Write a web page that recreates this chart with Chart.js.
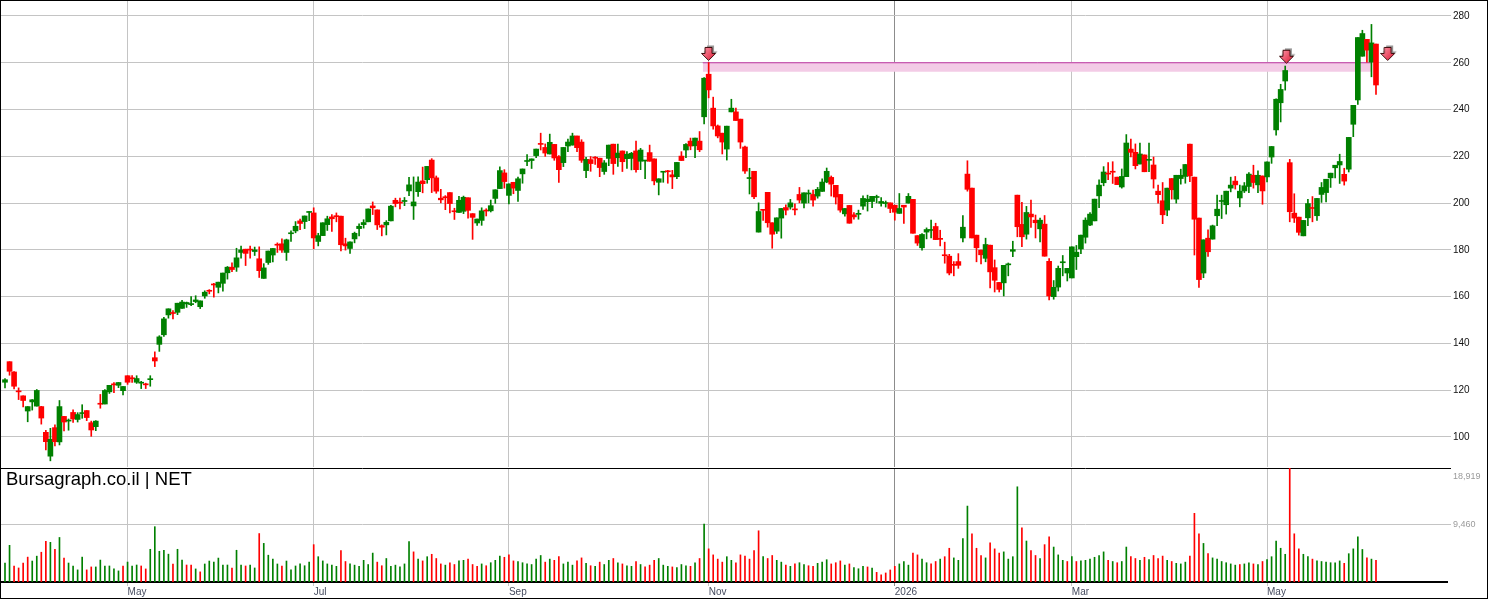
<!DOCTYPE html>
<html>
<head>
<meta charset="utf-8">
<script src="https://cdn.jsdelivr.net/npm/chart.js@4.4.1/dist/chart.umd.min.js"></script>
<style>
  html, body { margin: 0; padding: 0; background: #fff; }
  #frame { position: relative; width: 1486px; height: 597px; border: 1px solid #000; overflow: hidden; background: #fff; }
  #priceChart { position: absolute; left: 0; top: 0; }
  #volumeChart { position: absolute; left: 0; top: 466px; }
  #stamp { position: absolute; left: 5px; top: 469px; font: 18.5px "Liberation Sans", Arial, sans-serif; line-height: 1; color: #000; white-space: nowrap; }
</style>
</head>
<body>
<div id="frame">
  <canvas id="priceChart" width="1486" height="466"></canvas>
  <canvas id="volumeChart" width="1486" height="131"></canvas>
  <div id="stamp">Bursagraph.co.il | NET</div>
</div>
<script>
/*****************************************************************
 *                          DATA
 *****************************************************************/

// daily candles, oldest first
const openPrices = [
  123.4,132.2,127.8,119.5,117.6,111.1,115.0,113.2,113.0,102.0,
  91.8,104.0,97.9,108.8,106.8,110.5,107.5,110.0,111.3,106.1,
  104.4,114.2,114.1,119.3,122.5,122.1,119.8,126.2,125.1,123.4,
  123.0,122.5,124.5,133.9,139.6,143.7,152.2,153.0,153.3,155.0,
  156.9,156.6,157.9,155.7,160.3,162.5,165.2,164.0,165.7,170.2,
  172.6,172.6,178.9,180.3,180.1,179.3,176.2,167.8,174.6,177.8,
  182.2,182.6,178.9,186.9,188.1,192.4,192.1,196.0,195.8,183.6,
  186.1,190.8,194.1,194.4,194.4,182.6,180.6,184.7,189.1,190.8,
  192.0,198.8,197.1,190.4,190.7,192.4,201.2,200.2,200.7,205.2,
  198.8,204.9,209.5,210.0,218.4,210.8,202.1,202.5,204.5,196.5,
  196.0,196.5,202.3,195.5,191.5,192.6,196.8,196.7,202.0,206.2,
  212.9,203.3,208.9,205.4,212.5,217.8,218.2,220.3,225.3,223.8,
  221.0,225.1,219.9,217.3,224.4,224.8,228.7,226.1,213.9,218.6,
  219.4,219.2,213.5,219.1,225.2,219.4,222.3,219.0,219.1,222.3,
  217.9,218.0,221.6,218.9,208.9,213.2,213.6,212.1,211.3,220.1,
  222.7,226.5,224.5,226.5,236.9,255.1,240.6,233.0,229.9,223.1,
  239.0,239.0,235.9,224.0,210.5,213.6,187.6,197.1,204.6,191.6,
  188.0,193.6,198.1,198.3,197.3,203.7,200.0,203.9,203.7,203.0,
  205.0,209.0,211.0,207.6,203.7,195.4,199.0,195.0,195.2,198.7,
  200.6,200.7,202.4,199.9,199.8,200.1,199.1,195.6,199.1,200.0,
  201.6,186.1,180.9,187.6,188.3,190.0,184.7,177.7,177.3,173.6,
  175.0,185.1,212.4,206.4,186.3,179.9,176.4,182.0,172.4,166.1,
  165.9,173.6,179.4,203.4,190.9,186.7,195.3,192.7,189.0,191.0,
  175.1,160.0,164.1,174.5,170.1,168.0,177.1,180.4,185.4,190.6,
  192.4,203.1,208.7,212.6,213.4,211.1,206.9,211.3,223.1,221.7,
  216.7,220.6,218.3,216.3,205.1,201.0,197.0,210.5,201.7,210.5,
  211.4,225.2,211.1,193.6,170.1,185.0,184.6,194.6,200.7,199.3,
  206.4,209.4,202.2,205.2,207.1,211.9,207.8,211.6,211.2,219.7,
  231.3,242.9,252.2,217.3,195.7,194.0,186.0,193.7,197.9,194.6,
  203.7,204.5,210.8,215.1,216.3,212.3,214.5,233.7,244.1,262.8,
  270.0,260.3,268.0
];

const highPrices = [
  125.0,132.2,128.0,121.0,117.6,113.0,116.0,120.3,113.1,102.8,
  103.7,105.2,115.6,108.8,107.7,111.6,110.4,113.8,111.3,106.8,
  107.0,118.2,120.3,122.1,123.3,123.3,121.6,126.2,126.3,126.2,
  123.8,123.0,126.2,136.4,143.3,151.2,154.8,154.1,157.2,158.4,
  157.7,160.0,160.4,158.2,162.5,163.0,165.7,166.2,170.1,172.9,
  174.5,180.7,181.6,180.3,181.6,181.2,181.3,174.1,179.5,180.6,
  183.0,184.7,184.6,188.1,192.1,193.2,194.5,196.4,198.0,187.1,
  191.6,194.4,195.1,195.8,194.4,185.0,183.4,187.6,191.1,192.9,
  197.5,200.5,197.1,190.7,192.5,199.1,202.1,202.1,202.4,211.0,
  211.2,211.2,215.4,215.7,219.0,211.6,205.9,203.2,204.5,197.8,
  202.9,203.0,202.3,195.5,193.2,198.0,197.6,201.3,205.7,215.5,
  214.3,208.2,208.9,211.1,214.6,220.7,218.9,223.1,229.9,225.3,
  229.5,225.1,220.3,223.8,227.4,229.9,228.7,227.1,219.6,219.9,
  219.9,219.2,218.2,224.8,225.2,225.2,222.3,222.0,221.7,226.5,
  223.4,218.2,224.8,218.9,210.4,213.4,214.0,214.0,217.4,222.0,
  225.4,227.8,227.8,230.6,253.7,260.1,245.3,233.4,229.9,232.9,
  244.4,240.6,235.9,224.4,214.9,213.6,200.1,197.1,204.6,191.6,
  193.7,197.7,199.3,201.6,199.7,206.7,204.4,205.6,205.6,206.7,
  210.4,215.0,211.6,207.6,203.7,197.7,199.0,195.9,197.0,203.1,
  203.4,202.9,203.4,202.4,200.9,200.1,199.1,204.1,199.1,204.1,
  201.6,186.1,187.0,189.4,192.7,191.4,188.4,183.3,178.1,175.0,
  178.4,194.7,218.1,206.4,186.3,179.9,185.0,182.0,175.7,166.1,
  173.4,174.4,183.7,203.4,200.3,198.6,201.3,194.9,193.6,194.7,
  176.3,166.9,173.1,177.6,172.1,181.3,181.9,186.3,193.7,196.0,
  201.7,209.9,215.6,217.3,217.7,211.1,214.6,229.3,227.4,225.3,
  225.7,220.6,225.7,219.7,207.7,208.8,206.4,210.5,211.9,214.5,
  216.5,225.2,211.1,193.6,184.3,188.6,190.6,203.4,203.4,205.1,
  211.1,211.4,207.7,208.8,213.1,216.2,213.8,211.6,217.6,224.2,
  244.6,250.8,258.6,218.7,204.0,194.0,192.6,201.6,202.8,202.0,
  208.8,210.2,212.8,216.2,220.9,214.9,228.1,241.8,270.8,273.9,
  270.0,276.4,268.0
];

const lowPrices = [
  121.0,126.4,120.5,116.0,112.9,106.5,111.5,113.2,105.5,94.5,
  89.8,96.2,96.6,102.6,102.9,106.2,106.4,108.0,107.0,100.3,
  102.7,112.3,114.1,118.6,119.0,121.1,118.0,122.5,123.3,122.9,
  120.7,120.7,121.7,130.1,136.6,143.0,150.8,150.5,152.3,155.0,
  155.4,156.2,157.4,154.9,159.3,161.2,159.8,161.6,162.3,167.5,
  170.7,170.8,176.5,173.3,176.5,177.6,168.2,167.8,173.8,174.8,
  178.9,178.9,175.5,183.6,187.3,188.6,189.1,192.5,180.5,181.7,
  186.1,188.3,187.9,192.0,179.6,179.9,178.5,183.0,186.0,189.3,
  192.0,195.1,188.7,186.0,186.4,192.4,198.4,197.5,198.9,203.2,
  193.0,202.9,204.4,208.5,204.5,204.2,200.1,197.2,195.8,193.0,
  196.0,195.5,193.6,184.5,190.5,190.5,194.5,196.2,199.9,206.2,
  206.4,199.6,204.0,200.7,208.5,216.0,214.8,219.4,222.7,220.0,
  221.0,218.3,208.8,215.6,222.0,224.8,222.0,217.4,210.9,213.6,
  216.5,211.3,212.3,216.0,212.3,215.7,213.5,214.8,214.2,213.2,
  214.3,210.4,217.9,207.8,203.5,208.9,208.5,206.2,210.4,218.2,
  219.4,222.8,219.4,222.0,233.9,245.0,231.6,227.9,221.0,218.4,
  239.0,235.3,223.4,212.7,203.9,201.9,187.6,192.6,189.7,180.7,
  187.0,185.0,194.9,197.4,194.9,200.1,197.9,200.1,198.7,202.1,
  205.0,208.7,203.0,199.6,196.1,194.4,191.4,193.1,193.1,197.3,
  196.6,198.1,200.1,198.7,198.3,195.9,192.7,195.6,191.3,200.0,
  187.1,181.9,179.9,184.7,185.1,184.4,181.7,174.3,169.3,168.9,
  172.1,183.4,205.1,185.1,174.9,174.0,174.9,163.7,162.0,162.0,
  160.3,168.9,177.1,185.6,181.4,184.6,189.6,185.1,183.4,177.3,
  158.6,158.9,162.4,168.9,166.7,168.0,171.6,178.4,182.9,190.3,
  192.4,198.1,207.4,210.0,208.4,207.9,206.4,211.3,219.7,214.6,
  216.7,213.4,213.4,206.4,200.0,191.2,194.6,201.7,200.0,208.1,
  208.5,209.2,177.8,164.0,168.1,177.2,184.6,190.3,193.4,195.3,
  204.8,206.0,198.4,204.5,204.5,206.4,204.5,199.5,209.1,217.0,
  229.0,234.7,248.3,192.0,191.7,186.3,186.0,190.3,192.0,192.6,
  200.3,200.5,206.7,210.8,208.4,207.7,213.3,228.4,242.2,262.8,
  260.3,254.0,246.5
];

const closePrices = [
  124.5,128.1,121.7,119.3,115.6,113.0,115.9,119.9,108.1,98.0,
  99.0,98.0,113.0,106.4,107.0,107.7,109.6,110.2,108.3,103.0,
  106.8,114.0,119.9,122.1,122.3,123.3,121.6,123.4,124.9,125.0,
  123.1,122.3,124.7,132.5,142.8,150.5,154.8,152.8,157.2,157.7,
  157.5,156.8,158.6,158.2,161.9,162.3,165.0,166.2,170.1,172.6,
  171.6,176.6,180.0,178.5,179.9,180.0,171.1,172.3,179.5,180.6,
  182.0,179.9,184.3,187.1,190.1,191.3,194.5,196.2,185.1,186.1,
  191.6,193.3,193.3,194.2,182.2,181.7,183.4,187.1,190.1,191.7,
  197.5,198.0,190.7,189.7,191.8,198.7,199.8,200.0,200.9,207.8,
  200.5,209.0,208.3,215.7,210.8,205.1,201.4,202.3,199.8,196.3,
  201.2,202.5,196.9,193.9,193.2,196.7,196.6,198.9,205.7,213.9,
  209.2,208.2,206.4,210.4,214.6,218.0,218.9,223.1,225.1,221.4,
  226.0,219.3,214.3,223.8,226.1,228.7,223.7,218.3,218.7,216.9,
  219.2,215.2,217.2,224.8,216.9,221.4,217.7,220.9,221.3,214.3,
  222.7,218.2,217.9,209.5,210.4,213.4,213.4,211.2,217.4,218.2,
  225.1,224.4,227.8,222.8,253.4,248.4,233.0,228.7,226.1,232.9,
  240.6,235.3,226.1,213.7,210.7,202.7,196.4,196.9,191.6,186.7,
  193.7,197.7,197.0,200.1,197.1,201.3,204.4,204.1,201.3,205.9,
  209.0,213.6,208.1,202.6,197.0,197.7,191.4,194.1,195.4,202.0,
  201.7,202.9,202.6,200.7,200.0,197.7,196.1,197.7,198.3,202.9,
  187.1,182.9,186.6,188.7,188.5,184.4,184.5,177.5,170.1,173.4,
  173.4,189.7,205.9,185.1,180.9,177.9,182.3,170.6,167.0,163.1,
  173.4,173.8,180.1,189.9,185.6,196.0,194.1,191.6,192.7,177.3,
  160.3,164.0,172.1,174.7,172.1,181.3,179.0,186.3,192.7,195.3,
  201.7,207.7,213.3,212.4,213.2,207.9,211.4,225.7,221.7,216.0,
  221.0,213.4,218.5,210.3,203.6,195.0,206.4,205.7,211.9,211.9,
  216.5,211.6,193.1,167.3,184.3,179.2,190.3,197.4,200.9,205.1,
  207.7,207.8,205.1,207.4,212.4,208.8,211.9,205.2,217.6,224.2,
  244.4,248.6,256.7,196.3,193.6,187.5,192.6,199.8,197.7,202.0,
  206.7,210.2,212.8,216.2,217.8,209.4,228.1,241.8,270.8,272.5,
  265.4,268.5,250.5
];

// volume in thousands of shares
const volumes = [
  3150,6090,2660,2330,3150,4130,3480,4290,4940,6740,
  6580,5430,7390,3970,3150,2660,2010,4130,2010,2500,
  2500,3640,2660,2660,2170,1840,2660,3310,2660,2820,
  2660,2170,5430,9180,5100,5270,4620,2990,5430,3640,
  2820,2820,2170,1680,2990,3480,3310,3970,2820,2820,
  2330,5270,2820,2660,2820,2330,8040,6410,4450,3800,
  2990,2660,3480,2010,2660,3000,2700,3300,6200,4200,
  3500,3000,2800,2600,5200,3400,3000,2800,2600,3600,
  2900,4800,3300,2700,3900,2600,2800,2500,3000,6700,
  5000,3800,3500,4200,4600,3900,3000,2800,3200,2900,
  3500,3600,3800,2900,2600,3000,2700,3200,3600,4300,
  4100,4500,3500,3400,3200,3000,2900,3800,4400,3300,
  3800,3600,4200,3000,3300,2800,3500,4000,3100,2700,
  2600,3300,2900,3600,3900,3200,3000,2700,2600,3400,
  2900,2500,2800,3600,3900,2800,2600,2500,2400,2900,
  2700,2600,3200,3900,9600,5500,4500,3800,3300,4200,
  3600,3200,4500,4300,3800,5200,8500,4200,3900,4400,
  3600,3300,2800,2600,3000,3200,2900,2700,2600,3100,
  3300,3700,3000,3200,3500,2800,3000,2400,2200,2600,
  2500,2300,1600,1200,1500,2000,2600,3000,3400,2800,
  4800,4500,3800,3200,3000,3400,3800,4200,5600,4000,
  3600,7200,12600,8000,5600,4400,4000,6500,5500,4800,
  5000,3800,4200,15800,9000,6800,5200,4400,3900,6200,
  7500,5800,4500,3600,3400,4200,3400,3500,3600,3800,
  4100,4400,5000,3600,3400,3200,3400,5800,4200,3900,
  3600,4100,3700,4400,3900,4300,3600,3400,3100,3000,
  3300,4300,11400,8000,6400,4700,4000,3800,3400,3200,
  3000,2800,2900,3000,3200,3000,2900,3400,3700,4200,
  6800,5600,4600,18919,8000,5500,4600,4200,3800,3500,
  3400,3300,3200,3200,3500,3100,4700,5500,7500,5400,
  4000,3800,3600
];

// first trading day of each labelled month (candle index) and its label
const monthIndex = [27, 68, 111, 155, 196, 235, 278];
const monthLabels = ["May", "Jul", "Sep", "Nov", "2026", "Mar", "May"];

const priceTicks = [100, 120, 140, 160, 180, 200, 220, 240, 260, 280];
const volumeTicks = [9460, 18919];

// resistance band and signal arrows
const bandFrom = 153.7;
const bandTo = 301.1;
const bandTop = 260;
const bandBottom = 256.2;
const arrowX = [155.3, 282.6, 304.9];
const arrowY = [264.0, 262.8, 264.0];

/*****************************************************************
 *                          SETTINGS
 *****************************************************************/

const UP = "#008000";
const DOWN = "#ff0000";
const GRID = "#c4c4c4";
const YEAR_GRID = "#8c8c8c";
const AXIS_W = 40;

const xMin = -0.88;
const xMax = 317.64;
const yMin = 87.17;
const yMax = 286.41;
const volMax = 18919;

const candleColors = openPrices.map((o, i) => (closePrices[i] >= o ? UP : DOWN));
const volumeColors = closePrices.map((c, i) =>
  i === 0 ? candleColors[0] : c >= closePrices[i - 1] ? UP : DOWN
);

const wicks = openPrices.map((o, i) => ({ x: i, y: [lowPrices[i], highPrices[i]] }));
const bodies = openPrices.map((o, i) => ({ x: i, y: [o, closePrices[i]] }));
const volBars = volumes.map((v, i) => ({ x: i, y: v }));

function monthGridColor(ctx) {
  return monthLabels[ctx.index] === "2026" ? YEAR_GRID : GRID;
}

function setMonthTicks(scale) {
  scale.ticks = monthIndex.map((v) => ({ value: v }));
}

// keep the plot area flush with the canvas edges
function noPadding(axis) {
  axis.paddingTop = 0;
  axis.paddingBottom = 0;
  axis.paddingLeft = 0;
  axis.paddingRight = 0;
}

// small red down arrow with a grey drop shadow, used as a point image
function makeArrow() {
  const c = document.createElement("canvas");
  c.width = 18;
  c.height = 17;
  const g = c.getContext("2d");
  const shape = (dx, dy) => {
    g.beginPath();
    g.moveTo(4 + dx, 2.5 + dy);
    g.lineTo(11 + dx, 2.5 + dy);
    g.lineTo(11 + dx, 8.5 + dy);
    g.lineTo(14.5 + dx, 8.5 + dy);
    g.lineTo(7.5 + dx, 15.5 + dy);
    g.lineTo(0.5 + dx, 8.5 + dy);
    g.lineTo(4 + dx, 8.5 + dy);
    g.closePath();
  };
  shape(2, -2);
  g.fillStyle = "#9a9a9a";
  g.fill();
  shape(0, 0);
  const grad = g.createLinearGradient(0, 2, 14, 14);
  grad.addColorStop(0, "#ffa0b0");
  grad.addColorStop(1, "#e0203c");
  g.fillStyle = grad;
  g.fill();
  g.strokeStyle = "#3a0a0a";
  g.lineWidth = 1;
  g.stroke();
  return c;
}

/*****************************************************************
 *                          PRICE CHART
 *****************************************************************/

const priceChart = new Chart(document.getElementById("priceChart"), {
  type: "bar",
  data: {
    datasets: [
      {
        type: "line",
        data: [{ x: bandFrom, y: bandTop }, { x: bandTo, y: bandTop }],
        borderColor: "#c43aa8",
        borderWidth: 1,
        pointRadius: 0,
        fill: false,
        order: 6,
      },
      {
        type: "line",
        data: [{ x: bandFrom, y: bandBottom }, { x: bandTo, y: bandBottom }],
        borderWidth: 0,
        borderColor: "rgba(0,0,0,0)",
        backgroundColor: "#f3cbe6",
        pointRadius: 0,
        fill: "-1",
        order: 7,
      },
      {
        data: wicks,
        backgroundColor: candleColors,
        barThickness: 1,
        grouped: false,
        order: 3,
      },
      {
        data: bodies,
        backgroundColor: candleColors,
        barThickness: 5,
        minBarLength: 1,
        grouped: false,
        order: 2,
      },
      {
        type: "line",
        data: arrowX.map((x, i) => ({ x: x, y: arrowY[i] })),
        showLine: false,
        pointStyle: makeArrow(),
        order: 0,
      },
    ],
  },
  options: {
    responsive: false,
    animation: false,
    events: [],
    layout: { padding: 0, autoPadding: false },
    plugins: { legend: { display: false }, tooltip: { enabled: false } },
    scales: {
      x: {
        type: "linear",
        min: xMin,
        max: xMax,
        offset: false,
        afterBuildTicks: setMonthTicks,
        afterFit: (axis) => { axis.height = 0; noPadding(axis); },
        ticks: { display: false, autoSkip: false },
        grid: { color: monthGridColor, drawTicks: false, offset: false },
        border: { display: false },
      },
      y: {
        position: "right",
        min: yMin,
        max: yMax,
        afterBuildTicks: (scale) => { scale.ticks = priceTicks.map((v) => ({ value: v })); },
        afterFit: (axis) => { axis.width = AXIS_W; noPadding(axis); },
        ticks: {
          color: "#111",
          padding: 2,
          font: { family: "'Liberation Sans', Arial, sans-serif", size: 10 },
        },
        grid: { color: GRID, tickLength: 4 },
        border: { display: false },
      },
    },
  },
});

/*****************************************************************
 *                          VOLUME CHART
 *****************************************************************/

const volumeChart = new Chart(document.getElementById("volumeChart"), {
  type: "bar",
  data: {
    datasets: [
      {
        data: volBars,
        backgroundColor: volumeColors,
        barThickness: 1,
      },
    ],
  },
  options: {
    responsive: false,
    animation: false,
    events: [],
    layout: { padding: { top: 1, left: 0, right: 0, bottom: 0 }, autoPadding: false },
    plugins: { legend: { display: false }, tooltip: { enabled: false } },
    scales: {
      x: {
        type: "linear",
        min: xMin,
        max: xMax,
        offset: false,
        afterBuildTicks: setMonthTicks,
        afterFit: noPadding,
        ticks: {
          autoSkip: false,
          maxRotation: 0,
          align: "start",
          padding: 0,
          color: "#454b5e",
          font: { family: "'Liberation Sans', Arial, sans-serif", size: 10 },
          callback: (v) => monthLabels[monthIndex.indexOf(v)],
        },
        grid: { color: monthGridColor, tickLength: 4, offset: false },
        border: { color: "#000", width: 2 },
      },
      y: {
        position: "right",
        min: 0,
        max: volMax,
        afterBuildTicks: (scale) => { scale.ticks = volumeTicks.map((v) => ({ value: v })); },
        afterFit: (axis) => { axis.width = AXIS_W; noPadding(axis); },
        ticks: {
          color: "#9a9a9a",
          padding: 2,
          font: { family: "'Liberation Sans', Arial, sans-serif", size: 9, lineHeight: 2 },
          callback: (v) => (v === volMax ? ["", v.toLocaleString("en-US")] : v.toLocaleString("en-US")),
        },
        grid: {
          color: (ctx) => (ctx.tick && ctx.tick.value === volMax ? "#000" : GRID),
          tickLength: 4,
        },
        border: { display: false },
      },
    },
  },
});
</script>
</body>
</html>
